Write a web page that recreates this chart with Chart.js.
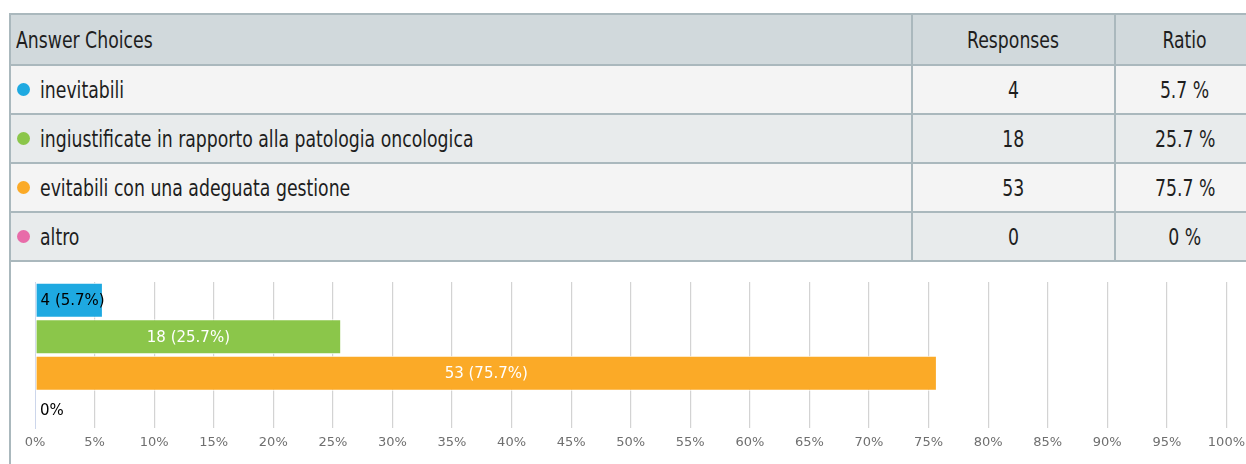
<!DOCTYPE html>
<html>
<head>
<meta charset="utf-8">
<script src="https://cdn.jsdelivr.net/npm/chart.js@4"></script>
<style>
  html, body { margin: 0; padding: 0; background: #fff; }
  body { width: 1246px; height: 464px; overflow: hidden; position: relative; }
  .tbl { position: absolute; left: 0; top: 0; width: 1246px; height: 464px;
         font-family: "DejaVu Sans Condensed", "DejaVu Sans", sans-serif;
         font-size: 23px; color: #1e1e1e; }
  .cell { position: absolute; display: flex; align-items: center; white-space: nowrap; }
  .txt { display: inline-block; transform: scaleX(0.835); }
  .hl { position: absolute; height: 2px; background: #aab8bd; }
  .vl { position: absolute; width: 2px; background: #aab8bd; }
  .dot { display: inline-block; width: 13px; height: 13px; border-radius: 50%; margin-right: 10px; flex: none; }
  #chartBox { position: absolute; left: 11px; top: 262px; width: 1241px; height: 202px; }
</style>
</head>
<body>
<div class="tbl" id="tbl"></div>
<div id="chartBox"><canvas id="c" width="1241" height="202"></canvas></div>
<script>
// ---- data ----
const headers = ['Answer Choices', 'Responses', 'Ratio'];
const categories = ['inevitabili', 'ingiustificate in rapporto alla patologia oncologica', 'evitabili con una adeguata gestione', 'altro'];
const responses = [4, 18, 53, 0];
const ratios = [5.7, 25.7, 75.7, 0];
const colors = ['#1ea9e1', '#8bc64a', '#fbaa27', '#e86ca9'];
const tickLabels = ['0%','5%','10%','15%','20%','25%','30%','35%','40%','45%','50%','55%','60%','65%','70%','75%','80%','85%','90%','95%','100%'];

// ---- table ----
const tbl = document.getElementById('tbl');
const lineYs = [13, 64, 113, 162, 211, 260];
const colXs = [9, 911, 1114, 1254];
const rowBgs = ['#d1d9dc', '#f4f4f4', '#e8ebec', '#f4f4f4', '#e8ebec'];
function add(cls, style) {
  const d = document.createElement('div');
  d.className = cls;
  Object.assign(d.style, style);
  tbl.appendChild(d);
  return d;
}
function txt(parent, s, origin) {
  const sp = document.createElement('span');
  sp.className = 'txt';
  sp.style.transformOrigin = origin;
  sp.textContent = s;
  parent.appendChild(sp);
}
for (let r = 0; r < 5; r++) {
  add('cell', { left: colXs[0] + 'px', top: lineYs[r] + 'px', width: (1246 - colXs[0]) + 'px',
    height: (lineYs[r + 1] - lineYs[r]) + 'px', background: rowBgs[r] });
}
function rowCells(r, first, second, third, dotColor) {
  const top = lineYs[r] + 2, h = lineYs[r + 1] - lineYs[r] - 2;
  const c1 = add('cell', { left: '17px', top: top + 'px', height: h + 'px' });
  if (dotColor) {
    const dot = document.createElement('span');
    dot.className = 'dot';
    dot.style.background = dotColor;
    c1.appendChild(dot);
  } else {
    c1.style.left = '16px';
  }
  txt(c1, first, 'left center');
  const c2 = add('cell', { left: (colXs[1] + 2) + 'px', top: top + 'px', height: h + 'px',
    width: (colXs[2] - colXs[1] - 2) + 'px', justifyContent: 'center' });
  txt(c2, second, 'center center');
  const c3 = add('cell', { left: (colXs[2] + 2) + 'px', top: top + 'px', height: h + 'px',
    width: (colXs[3] - colXs[2] - 2) + 'px', justifyContent: 'center' });
  txt(c3, third, 'center center');
}
rowCells(0, headers[0], headers[1], headers[2], null);
categories.forEach((cat, i) => rowCells(i + 1, cat, String(responses[i]), ratios[i] + ' %', colors[i]));
lineYs.forEach(y => add('hl', { left: colXs[0] + 'px', top: y + 'px', width: (1246 - colXs[0]) + 'px' }));
add('vl', { left: colXs[0] + 'px', top: lineYs[0] + 'px', height: (464 - lineYs[0]) + 'px' });
add('vl', { left: colXs[1] + 'px', top: lineYs[0] + 'px', height: (lineYs[5] - lineYs[0] + 2) + 'px' });
add('vl', { left: colXs[2] + 'px', top: lineYs[0] + 'px', height: (lineYs[5] - lineYs[0] + 2) + 'px' });

// ---- chart ----
const labelPlugin = {
  id: 'barLabels',
  afterDatasetsDraw(chart) {
    const ctx = chart.ctx;
    const meta = chart.getDatasetMeta(0);
    ctx.save();
    ctx.font = '15px "DejaVu Sans", sans-serif';
    ctx.textBaseline = 'middle';
    meta.data.forEach((bar, i) => {
      const text = responses[i] === 0 ? ratios[i] + '%' : responses[i] + ' (' + ratios[i] + '%)';
      const w = ctx.measureText(text).width;
      const barW = bar.x - bar.base;
      if (w + 10 < barW) {
        ctx.fillStyle = '#ffffff';
        ctx.textAlign = 'center';
        ctx.fillText(text, (bar.x + bar.base) / 2, bar.y + 1);
      } else {
        ctx.fillStyle = '#000000';
        ctx.textAlign = 'left';
        ctx.fillText(text, bar.base + 5, bar.y + 1);
      }
    });
    ctx.restore();
  }
};

new Chart(document.getElementById('c'), {
  type: 'bar',
  data: {
    labels: categories,
    datasets: [{
      data: ratios,
      backgroundColor: colors,
      borderColor: '#ffffff',
      borderWidth: 1,
      borderSkipped: false,
      barPercentage: 0.96,
      categoryPercentage: 1
    }]
  },
  options: {
    indexAxis: 'y',
    responsive: false,
    animation: false,
    events: [],
    layout: { padding: { left: 24, right: 20, top: 20, bottom: 0 } },
    plugins: { legend: { display: false }, tooltip: { enabled: false } },
    scales: {
      x: {
        min: 0, max: 100,
        afterFit(s) { s.height = 36; },
        border: { display: false },
        grid: {
          color: (c) => c.index === 0 ? 'rgba(0,0,0,0)' : '#d3d3d3',
          lineWidth: 1.2,
          drawTicks: false
        },
        ticks: {
          stepSize: 5,
          padding: 7,
          maxRotation: 0,
          autoSkip: false,
          color: '#6f6f6f',
          font: { family: '"DejaVu Sans", sans-serif', size: 13 },
          callback: (v, i) => tickLabels[i]
        }
      },
      y: {
        afterFit(s) { s.width = 0; },
        border: { display: true, color: '#ccd6eb', width: 1 },
        grid: { display: false },
        ticks: { display: false }
      }
    }
  },
  plugins: [labelPlugin]
});
</script>
</body>
</html>
